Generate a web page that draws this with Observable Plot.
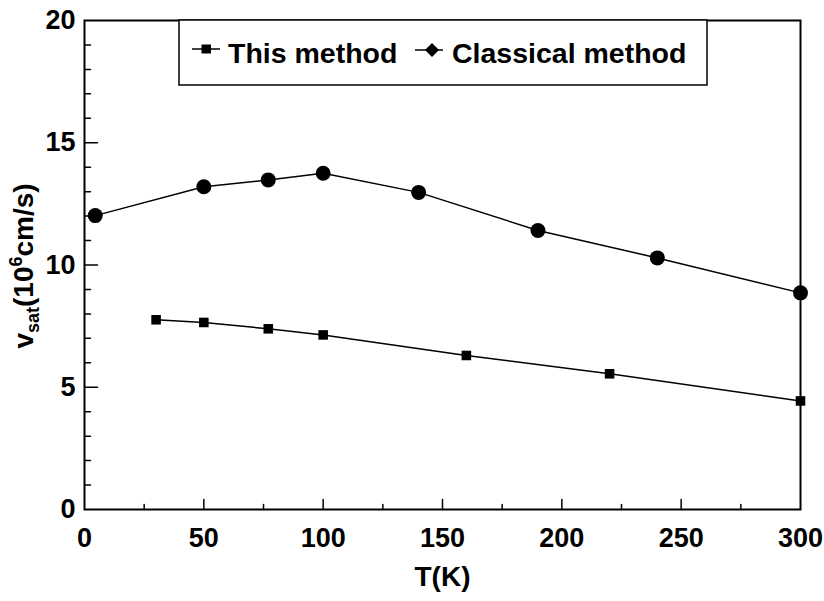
<!DOCTYPE html>
<html>
<head>
<meta charset="utf-8">
<script src="https://cdn.jsdelivr.net/npm/d3@7"></script>
<script src="https://cdn.jsdelivr.net/npm/@observablehq/plot@0.6"></script>
<style>
  html, body { margin: 0; padding: 0; background: white; }
  #chart { width: 824px; height: 601px; }
</style>
</head>
<body>
<div id="chart"></div>
<script>
// ---- data ----
const thisT = [30, 50, 77, 100, 160, 220, 300];
const thisV = [7.76, 7.65, 7.39, 7.14, 6.30, 5.55, 4.44];
const classT = [4.5, 50, 77, 100, 140, 190, 240, 300];
const classV = [12.02, 13.20, 13.48, 13.75, 12.97, 11.41, 10.29, 8.86];
const xTickLabels = [0, 50, 100, 150, 200, 250, 300];
const yTickLabels = [0, 5, 10, 15, 20];
const xMinorTicks = [25, 75, 125, 175, 225, 275];
const xMajorTicks = [50, 100, 150, 200, 250];
const yMinorTicks = [1, 2, 3, 4, 6, 7, 8, 9, 11, 12, 13, 14, 16, 17, 18, 19];
const yMajorTicks = [5, 10, 15];
const seriesNames = ["This method", "Classical method"];

const thisData = thisT.map((t, i) => ({t, v: thisV[i]}));
const classData = classT.map((t, i) => ({t, v: classV[i]}));

const tickShape = {
  draw(context, l) { context.moveTo(0, 0); context.lineTo(0, -l); }
};

const font = "'Liberation Sans', Arial, Helvetica, sans-serif";

const plot = Plot.plot({
  width: 824,
  height: 601,
  marginLeft: 84,
  marginRight: 24,
  marginTop: 20,
  marginBottom: 92,
  x: {domain: [0, 300]},
  y: {domain: [0, 20]},
  style: {fontFamily: font, fontWeight: "bold", background: "white", color: "black", overflow: "visible"},
  marks: [
    Plot.axisX({ticks: xTickLabels, tickSize: 0, tickPadding: 18, fontSize: 27, fontWeight: "bold", label: null, tickFormat: d => String(d)}),
    Plot.axisY({ticks: yTickLabels, tickSize: 0, tickPadding: 9, fontSize: 27, fontWeight: "bold", label: null, tickFormat: d => String(d)}),
    Plot.vector(yMajorTicks, {x: 0, y: d => d, length: 13, rotate: 90, anchor: "start", shape: tickShape, stroke: "black", strokeWidth: 1.5}),
    Plot.vector(yMinorTicks, {x: 0, y: d => d, length: 6, rotate: 90, anchor: "start", shape: tickShape, stroke: "black", strokeWidth: 1.5}),
    Plot.vector(xMajorTicks, {x: d => d, y: 0, length: 10, rotate: 0, anchor: "start", shape: tickShape, stroke: "black", strokeWidth: 1.5}),
    Plot.vector(xMinorTicks, {x: d => d, y: 0, length: 5, rotate: 0, anchor: "start", shape: tickShape, stroke: "black", strokeWidth: 1.5}),
    Plot.line(thisData, {x: "t", y: "v", stroke: "black", strokeWidth: 1.5}),
    Plot.dot(thisData, {x: "t", y: "v", symbol: "square", r: 5.4, fill: "black", stroke: null}),
    Plot.line(classData, {x: "t", y: "v", stroke: "black", strokeWidth: 1.5}),
    Plot.dot(classData, {x: "t", y: "v", symbol: "circle", r: 7.5, fill: "black", stroke: null}),
    Plot.frame({stroke: "black", strokeWidth: 2}),
    Plot.text(["T(K)"], {frameAnchor: "bottom", dy: 76, text: d => d, fontSize: 28, fontWeight: "bold", fill: "black"})
  ]
});

document.getElementById("chart").appendChild(plot);

// ---- y-axis label with subscript / superscript ----
const svg = d3.select(plot);
const yl = svg.append("text")
  .attr("transform", "translate(33,266) rotate(-90)")
  .attr("text-anchor", "middle")
  .attr("font-family", font)
  .attr("font-weight", "bold")
  .attr("font-size", 28)
  .attr("fill", "black");
yl.append("tspan").text("v");
yl.append("tspan").attr("font-size", 18).attr("dy", 6).text("sat");
yl.append("tspan").attr("dy", -6).text("(10");
yl.append("tspan").attr("font-size", 18).attr("dy", -11).text("6");
yl.append("tspan").attr("dy", 11).text("cm/s)");

// ---- legend ----
const lg = svg.append("g").attr("font-family", font).attr("font-weight", "bold").attr("text-anchor", "start");
lg.append("rect").attr("x", 179).attr("y", 20).attr("width", 528).attr("height", 65)
  .attr("fill", "white").attr("stroke", "black").attr("stroke-width", 1.5);
// This method
lg.append("line").attr("x1", 192).attr("x2", 220).attr("y1", 49).attr("y2", 49).attr("stroke", "black").attr("stroke-width", 1.5);
lg.append("rect").attr("x", 201.5).attr("y", 44.5).attr("width", 9.5).attr("height", 9).attr("fill", "black");
lg.append("text").attr("x", 228).attr("y", 63).attr("text-anchor", "start").attr("font-size", 28.5).attr("fill", "black").text(seriesNames[0]);
// Classical method
lg.append("line").attr("x1", 415).attr("x2", 443).attr("y1", 50).attr("y2", 50).attr("stroke", "black").attr("stroke-width", 1.5);
lg.append("path").attr("d", "M432,43L439,50L432,57L425,50Z").attr("fill", "black");
lg.append("text").attr("x", 452).attr("y", 63).attr("text-anchor", "start").attr("font-size", 28.5).attr("fill", "black").text(seriesNames[1]);
</script>
</body>
</html>
